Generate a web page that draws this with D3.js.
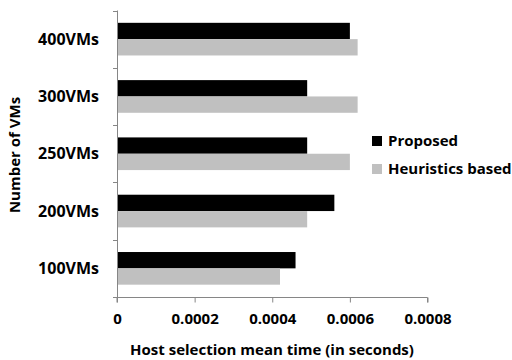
<!DOCTYPE html>
<html>
<head>
<meta charset="utf-8">
<script src="https://cdn.jsdelivr.net/npm/d3@7"></script>
<style>
  body { margin: 0; background: #fff; }
  text { font-family: "Open Sans", sans-serif; font-weight: bold; fill: #000; }
</style>
</head>
<body>
<svg id="chart" width="512" height="360"></svg>
<script>
// data
var categories = ["400VMs", "300VMs", "250VMs", "200VMs", "100VMs"];
var proposed   = [0.00060, 0.00049, 0.00049, 0.00056, 0.00046];
var heuristics = [0.00062, 0.00062, 0.00060, 0.00049, 0.00042];
var seriesNames = ["Proposed", "Heuristics based"];
var xTicks = [0, 0.0002, 0.0004, 0.0006, 0.0008];

var colors = ["#000000", "#c0c0c0"];
var axisColor = "#868686";

var svg = d3.select("#chart");
var plotLeft = 117, plotRight = 427.5, plotTop = 10.5, plotBottom = 297;

var x = d3.scaleLinear().domain([0, 0.0008]).range([plotLeft, plotRight]);
var y = d3.scaleBand().domain(categories).range([plotTop, plotBottom]).paddingInner(0.43).paddingOuter(0.215);
var sub = d3.scaleBand().domain([0, 1]).range([0, y.bandwidth()]);

// bars
categories.forEach(function(c, i) {
	var vals = [proposed[i], heuristics[i]];
	svg.selectAll(null)
		.data(vals)
		.enter()
		.append("rect")
		.attr("x", x(0))
		.attr("y", function(d, j) { return y(c) + sub(j); })
		.attr("width", function(d) { return x(d) - x(0); })
		.attr("height", sub.bandwidth())
		.attr("fill", function(d, j) { return colors[j]; });
});

// y axis line with category separators
var g = svg.append("g");
g.append("line")
	.attr("x1", plotLeft + 0.5).attr("x2", plotLeft + 0.5)
	.attr("y1", plotTop).attr("y2", plotBottom)
	.attr("stroke", axisColor);
d3.range(categories.length + 1).forEach(function(i) {
	var yy = Math.round(plotTop + i * (plotBottom - plotTop) / categories.length) + 0.5;
	g.append("line")
		.attr("x1", plotLeft - 4).attr("x2", plotLeft + 0.5)
		.attr("y1", yy).attr("y2", yy)
		.attr("stroke", axisColor);
});

// x axis
var xAxis = svg.append("g")
	.attr("transform", "translate(0," + (plotBottom + 0.5) + ")")
	.call(d3.axisBottom(x).tickValues(xTicks).tickSize(5).tickPadding(11)
		.tickFormat(function(d) { return d === 0 ? "0" : d3.format(".4f")(d); }));
xAxis.select(".domain").attr("stroke", axisColor).attr("d", "M" + plotLeft + ",5V0H" + plotRight + "V5");
xAxis.selectAll(".tick line").attr("stroke", axisColor);
xAxis.selectAll("text").style("font-size", "15px").attr("fill", "#000");

// category labels
svg.selectAll(".cat")
	.data(categories)
	.enter()
	.append("text")
	.attr("class", "cat")
	.attr("x", 99)
	.attr("y", function(d) { return y(d) + y.bandwidth() / 2; })
	.attr("dy", "0.35em")
	.attr("text-anchor", "end")
	.style("font-size", "16px")
	.text(function(d) { return d; });

// axis titles
svg.append("text")
	.attr("x", 272).attr("y", 355)
	.attr("text-anchor", "middle")
	.style("font-size", "15px")
	.text("Host selection mean time (in seconds)");

svg.append("text")
	.attr("transform", "translate(20,155) rotate(-90)")
	.attr("text-anchor", "middle")
	.style("font-size", "15px")
	.text("Number of VMs");

// legend
var legend = svg.selectAll(".legend")
	.data(seriesNames)
	.enter()
	.append("g")
	.attr("class", "legend")
	.attr("transform", function(d, i) { return "translate(372," + (141 + i * 28) + ")"; });
legend.append("rect")
	.attr("x", 0).attr("y", -5)
	.attr("width", 10).attr("height", 10)
	.attr("fill", function(d, i) { return colors[i]; });
legend.append("text")
	.attr("x", 16).attr("dy", "0.35em")
	.style("font-size", "15px")
	.text(function(d) { return d; });
</script>
</body>
</html>
